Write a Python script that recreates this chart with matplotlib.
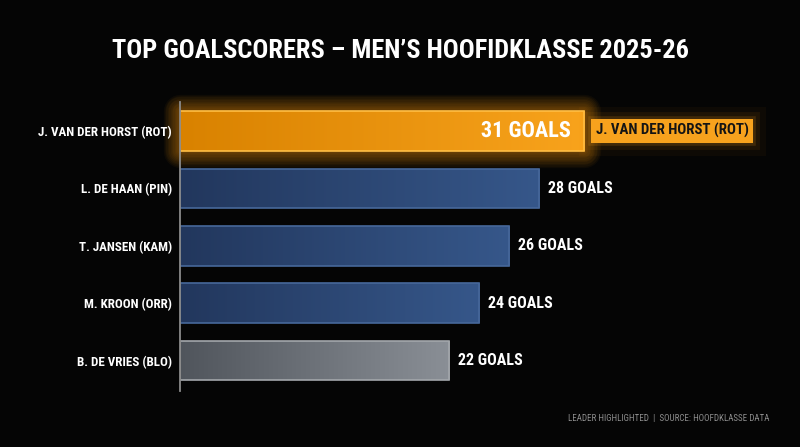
import numpy as np
import matplotlib.pyplot as plt
from matplotlib import patheffects as pe
from matplotlib.colors import LinearSegmentedColormap

players = ["J. VAN DER HORST (ROT)", "L. DE HAAN (PIN)", "T. JANSEN (KAM)",
           "M. KROON (ORR)", "B. DE VRIES (BLO)"]
goals = [31, 28, 26, 24, 22]
groups = ["leader", "blue", "blue", "blue", "gray"]

title = "TOP GOALSCORERS – MEN’S HOOFIDKLASSE 2025-26"
footer = "LEADER HIGHLIGHTED  |  SOURCE: HOOFDKLASSE DATA"

plt.rcParams['font.family'] = ['Roboto Condensed', 'Roboto', 'DejaVu Sans']

BG = '#050505'
grad = {"leader": ("#D98200", "#F8A31C"),
        "blue": ("#22375D", "#36578A"),
        "gray": ("#50555C", "#8A8F96")}
edges = {"leader": "#FFBE45", "blue": "#47689A", "gray": "#A3A7AB"}

x0 = 4.05  # left edge of the value axis
fig = plt.figure(figsize=(8, 4.47), dpi=100, facecolor=BG)
ax = fig.add_axes([0.225, 0.1253, 0.75, 0.6465], facecolor=BG)

y = np.arange(len(goals))
widths = [g - x0 for g in goals]

# soft glow behind the leader
for k in range(1, 13):
    ax.barh(y[0], widths[0], left=x0, height=0.69, color='none',
            edgecolor='#FF9D12', linewidth=2.0 * k, alpha=0.045, zorder=1,
            clip_on=False, joinstyle='round')

bars = ax.barh(y, widths, left=x0, height=0.69, color='none',
               edgecolor=[edges[g] for g in groups], linewidth=1.2, zorder=3)

ramp = np.linspace(0, 1, 256).reshape(1, -1)
for bar, grp in zip(bars, groups):
    cmap = LinearSegmentedColormap.from_list(grp, grad[grp])
    bx, by, bw, bh = bar.get_x(), bar.get_y(), bar.get_width(), bar.get_height()
    im = ax.imshow(ramp, cmap=cmap, extent=(bx, bx + bw, by + bh, by),
                   aspect='auto', zorder=2, interpolation='bicubic')
    im.set_clip_path(bar)

ax.set_xlim(x0, x0 + 40)
ax.set_ylim(len(goals) - 1 + 0.53, -0.505)

ax.set_yticks(y)
ax.set_yticklabels(players, color='white', fontsize=9.4, fontweight='bold')
ax.tick_params(axis='y', length=0, pad=6)
ax.set_xticks([])
for s in ['top', 'right', 'bottom']:
    ax.spines[s].set_visible(False)
ax.spines['left'].set_color('#8A8A8A')
ax.spines['left'].set_linewidth(1.3)
ax.spines['left'].set_zorder(5)

for i, (g, grp) in enumerate(zip(goals, groups)):
    if grp == "leader":
        ax.text(g - 0.9, i, f"{g} GOALS", ha='right', va='center', color='white',
                fontsize=16, fontweight='bold', zorder=6,
                path_effects=[pe.SimpleLineShadow(offset=(1.5, -1.5), alpha=0.35),
                              pe.Normal()])
    else:
        ax.text(g + 0.6, i, f"{g} GOALS", ha='left', va='center', color='white',
                fontsize=11.5, fontweight='bold', zorder=6)

tag = ax.text(goals[0] + 0.75, 0, players[0], ha='left', va='center',
              color='#141414', fontsize=10.7, fontweight='bold', zorder=6,
              bbox=dict(boxstyle='square,pad=0.3', fc='#F7A21D', ec='none'))
tag.get_bbox_patch().set_path_effects(
    [pe.Stroke(linewidth=18, foreground='#FF9D12', alpha=0.04),
     pe.Stroke(linewidth=10, foreground='#FF9D12', alpha=0.07),
     pe.Stroke(linewidth=4, foreground='#FFA520', alpha=0.15),
     pe.Normal()])

fig.text(0.5, 1 - 51 / 447, title, ha='center', va='center', color='white',
         fontsize=19, fontweight='bold')
fig.text(769 / 800, 1 - 419 / 447, footer, ha='right', va='center',
         color='#8C8C8C', fontsize=6.5)

fig.savefig('out.png', dpi=100, facecolor=BG)
